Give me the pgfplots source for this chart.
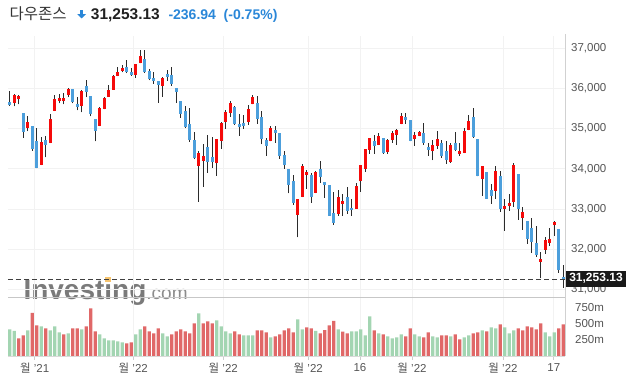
\documentclass[border=0pt]{standalone}
\usepackage{pgfplots}
\pgfplotsset{compat=1.18}
\usepackage{pgfplotstable}
\usetikzlibrary{calc}
\usepackage{fontspec}
\setmainfont{Liberation Sans}
\newfontfamily\kr{Noto Sans CJK KR}

\definecolor{cup}{HTML}{F50A0A}
\definecolor{cdn}{HTML}{4C9FDC}
\definecolor{wick}{HTML}{2B2B2B}
\definecolor{vup}{HTML}{A3D5B2}
\definecolor{vdn}{HTML}{E06868}
\definecolor{gridc}{HTML}{F2F2F2}
\definecolor{lbl}{HTML}{555555}
\definecolor{chg}{HTML}{2A87D8}
\definecolor{dotor}{HTML}{F7C46E}

\pgfplotstableread{
i O H L C
1 35647 35863 35556 35838
2 35738 35838 35606 35813
4 35025 35307 34942 35166
7 34105 34785 34095 34669
9 34652 35365 34640 35241
10 35448 35838 35440 35730
11 35689 35863 35631 35763
12 35700 35888 35606 35755
13 35838 36012 35788 35987
16 35573 35962 35407 35937
20 35075 35531 35065 35506
21 35490 35788 35481 35763
22 35796 36087 35790 35962
23 35971 36335 35965 36311
24 36319 36534 36310 36410
25 36435 36584 36402 36509
28 36344 36617 36269 36609
29 36634 36949 36625 36808
34 36062 36286 35796 36261
42 34080 34445 33184 34395
43 34204 34619 33558 34320
46 34146 34755 33831 34743
47 34702 35174 34503 35141
48 35174 35465 35000 35415
49 35398 35689 35299 35639
53 35166 35589 35092 35490
54 35614 35838 35605 35788
58 34693 35067 34685 35017
64 32862 33260 32298 33252
65 33310 34122 33300 34072
66 33857 33973 33500 33923
68 33409 33948 33400 33923
73 32887 33475 32837 33301
74 33135 33376 32837 33202
77 33011 33641 33005 33575
78 33691 34106 33434 34097
79 34006 34504 33923 34495
80 34470 34777 34379 34769
82 34595 34893 34590 34819
84 34421 34744 34371 34719
85 34719 34943 34653 34893
86 34844 34993 34595 34968
87 35117 35391 35110 35316
90 34744 34918 34570 34844
91 34830 34950 34810 34930
94 34445 34719 34221 34595
95 34570 34943 34495 34744
98 34172 34644 34147 34595
100 34371 34644 34321 34445
101 34396 35017 34390 34943
102 34968 35341 34960 35192
105 33749 34080 33334 34072
108 33459 34072 33260 33948
110 33011 33251 32464 33077
111 33077 33376 32953 33152
112 33185 34147 33061 34097
114 32787 33061 32488 32928
118 31692 31925 31278 31759
119 31991 32306 31891 32231
120 32165 32530 32090 32256
121 32613 32704 32339 32679
}\candUp

\pgfplotstableread{
i O H L C
0 35664 35937 35573 35597
3 35390 35399 34776 34926
5 35067 35075 34453 34494
6 34693 35009 34020 34030
8 34718 34810 34287 34602
14 35987 35995 35631 35664
15 35614 35788 35457 35548
17 36062 36211 35788 35913
18 35813 35821 35307 35374
19 35241 35249 34685 34951
26 36534 36708 36385 36410
27 36410 36509 36311 36335
30 36733 36949 36393 36410
31 36435 36485 36211 36236
32 36261 36410 36120 36194
33 36186 36195 35647 36095
35 36360 36460 36194 36294
36 36335 36534 36070 36120
37 36012 36020 35647 35921
38 35689 35697 35274 35374
39 35440 35564 35017 35042
40 35116 35506 34677 34727
41 34718 34909 34246 34271
44 34544 34843 33906 34171
45 34296 34793 34030 34160
50 35539 35564 35100 35125
51 35116 35365 34826 35042
52 35141 35340 35000 35067
55 35639 35813 35125 35241
56 35291 35440 34619 34743
57 34718 34768 34329 34569
59 34967 35067 34652 34893
60 34893 34900 34254 34320
61 34345 34445 34005 34096
62 33998 34006 33393 33608
63 33699 33849 33111 33160
67 33849 33898 33152 33310
69 33998 34197 33658 33807
70 33674 33680 33285 33608
71 33600 33608 32830 32837
72 32903 33426 32613 32663
75 33301 33550 32887 32961
76 33036 33252 32837 32975
81 34694 34844 34371 34570
83 34769 34777 34380 34388
88 35291 35391 35117 35217
89 35217 35225 34686 34694
92 34893 35142 34595 34644
93 34545 34644 34321 34470
96 34644 34719 34271 34321
97 34445 34694 34122 34221
99 34644 34918 34445 34470
103 35291 35515 34769 34794
104 34744 34752 33815 33823
106 33923 33930 33252 33260
107 33475 33625 33135 33334
109 33823 33948 32936 33011
113 33873 33880 32729 33011
115 32704 32712 32140 32265
116 32538 32779 31916 32190
117 32157 32588 31817 31866
122 32505 32512 31419 31490
123 31300 31618 31046 31253.13
}\candDn

\pgfplotstableread{
i v
0 417
1 391
4 401
7 464
9 401
10 464
11 370
13 354
16 417
20 339
21 276
22 245
23 245
24 229
25 214
28 339
29 417
34 354
35 307
42 667
46 557
47 464
48 385
49 354
52 323
53 323
54 323
58 292
64 573
65 417
68 391
73 417
76 385
77 385
78 417
79 323
80 620
82 354
84 307
85 276
86 292
87 339
90 339
91 307
94 307
95 292
98 307
101 292
102 323
105 401
107 448
108 432
110 448
111 354
112 401
119 370
120 307
121 370
}\volUp

\pgfplotstableread{
i v
2 276
3 323
5 672
6 479
8 432
12 339
14 432
15 432
17 464
18 745
19 385
26 198
27 214
30 464
31 385
32 354
33 432
36 339
37 385
38 417
39 385
40 354
41 510
43 510
44 542
45 510
50 385
51 339
55 401
56 401
57 370
59 307
60 339
61 401
62 432
63 370
66 448
67 432
69 354
70 406
71 479
72 547
74 380
75 354
81 401
83 339
88 307
89 432
92 292
93 370
96 323
97 323
99 339
100 260
103 354
104 370
106 385
109 495
113 432
114 401
115 464
116 448
117 417
118 510
122 432
123 495
}\volDn

\pgfplotsset{
  candle/.style 2 args={only marks, mark=*, mark size=0pt,
    mark options={draw=none, fill=none}, forget plot,
    error bars/.cd, y dir=plus, y explicit, error mark=none,
    error bar style={line width=#1, draw=#2}},
}

\begin{document}
\begin{tikzpicture}
\useasboundingbox (0pt,0pt) rectangle (630pt,385pt);

% watermark (behind)
\node[anchor=base west, inner sep=0pt, text=black!52] at (23.3pt,85pt)
  {\fontsize{28}{28}\selectfont\bfseries Investing\fontsize{19}{19}\selectfont\mdseries\color{black!45}.com};
\fill[dotor] (105.3pt,102.8pt) rectangle (110.5pt,107.8pt);

\begin{axis}[
  at={(8pt,87pt)}, anchor=south west,
  scale only axis, width=557pt, height=262pt,
  xmin=-0.4, xmax=123.38, ymin=30788.6, ymax=37306,
  axis line style={draw=none},
  tick style={draw=none},
  scaled y ticks=false,
  xtick={5.53,27.44,47.44,66.33,77.82,89.38,109.6,120.9},
  xticklabels={},
  ytick={31000,32000,33000,34000,35000,36000,37000},
  yticklabels={{31,000},{32,000},{33,000},{34,000},{35,000},{36,000},{37,000}},
  yticklabel pos=right,
  yticklabel style={anchor=west, inner sep=0pt, xshift=6pt,
    font=\fontsize{11.5}{12}\selectfont, text=lbl},
  grid=major, major grid style={draw=gridc, line width=0.8pt},
]
\addplot[candle={1.1pt}{wick}]
  table[x=i, y=L, y error plus expr=\thisrow{H}-\thisrow{L}] {\candUp};
\addplot[candle={1.1pt}{wick}]
  table[x=i, y=L, y error plus expr=\thisrow{H}-\thisrow{L}] {\candDn};
\addplot[candle={3.2pt}{cup}]
  table[x=i, y=O, y error plus expr=\thisrow{C}-\thisrow{O}] {\candUp};
\addplot[candle={3.2pt}{cdn}]
  table[x=i, y=C, y error plus expr=\thisrow{O}-\thisrow{C}] {\candDn};
\draw[black!75, line width=0.9pt, dash pattern=on 5pt off 3pt]
  (axis cs:-0.4,31253.13) -- (axis cs:123.38,31253.13);
\coordinate (tag) at (axis cs:123.38,31253.13);
\end{axis}

\begin{axis}[
  at={(8pt,29pt)}, anchor=south west,
  scale only axis, width=557pt, height=58pt,
  xmin=-0.4, xmax=123.38, ymin=0, ymax=906.25,
  ybar, bar width=3.2pt, bar shift=0pt,
  axis line style={draw=none},
  scaled y ticks=false,
  ytick={250,500,750},
  yticklabels={250m,500m,750m},
  yticklabel pos=right,
  yticklabel style={anchor=west, inner sep=0pt, xshift=6pt,
    font=\fontsize{11.5}{12}\selectfont, text=lbl},
  ytick style={draw=none},
  xtick={5.53,27.44,47.44,66.33,77.82,89.38,109.6,120.9},
  xticklabels={{{\kr 월} '21},{{\kr 월} '22},{{\kr 월} '22},{{\kr 월} '22},16,{{\kr 월} '22},{{\kr 월} '22},17},
  xtick pos=bottom, tick align=outside, major tick length=4pt,
  xtick style={draw=black!20, line width=0.8pt},
  xticklabel style={anchor=north, inner sep=0pt, yshift=-3pt,
    font=\fontsize{11.5}{12}\selectfont, text=lbl},
  xmajorgrids, major grid style={draw=gridc, line width=0.8pt},
]
\addplot[fill=vup, draw=none] table[x=i, y=v] {\volUp};
\addplot[fill=vdn, draw=none] table[x=i, y=v] {\volDn};
\end{axis}

% frame lines
\draw[black!18, line width=0.8pt] (565pt,29pt) -- (565pt,351pt);
\draw[black!22, line width=1pt] (8pt,87pt) -- (565pt,87pt);
\draw[black!15, line width=0.8pt] (8pt,29pt) -- (565pt,29pt);

% price tag
\fill[black!90] ($(tag)+(0.5pt,-7.5pt)$) rectangle ($(tag)+(61pt,8.5pt)$);
\node[text=white, font=\fontsize{12}{13}\selectfont\bfseries, inner sep=0pt]
  at ($(tag)+(31pt,0.6pt)$) {31,253.13};

% title
\node[anchor=base west, inner sep=0pt, text=black!80]
  at (9.3pt,365.5pt) {\kr\fontsize{15.5}{16}\selectfont 다우존스};
\fill[chg] (79.9pt,375pt) rectangle (83.4pt,370.3pt);
\fill[chg] (77.3pt,370.8pt) -- (86pt,370.8pt) -- (81.65pt,366.6pt) -- cycle;
\node[anchor=base west, inner sep=0pt, text=black!87]
  at (90.7pt,365.5pt) {\fontsize{15.5}{16}\selectfont\bfseries 31,253.13};
\node[anchor=base west, inner sep=0pt, text=chg]
  at (168.3pt,365.5pt) {\fontsize{14}{15}\selectfont\bfseries -236.94 \ (-0.75\%)};
\end{tikzpicture}
\end{document}
